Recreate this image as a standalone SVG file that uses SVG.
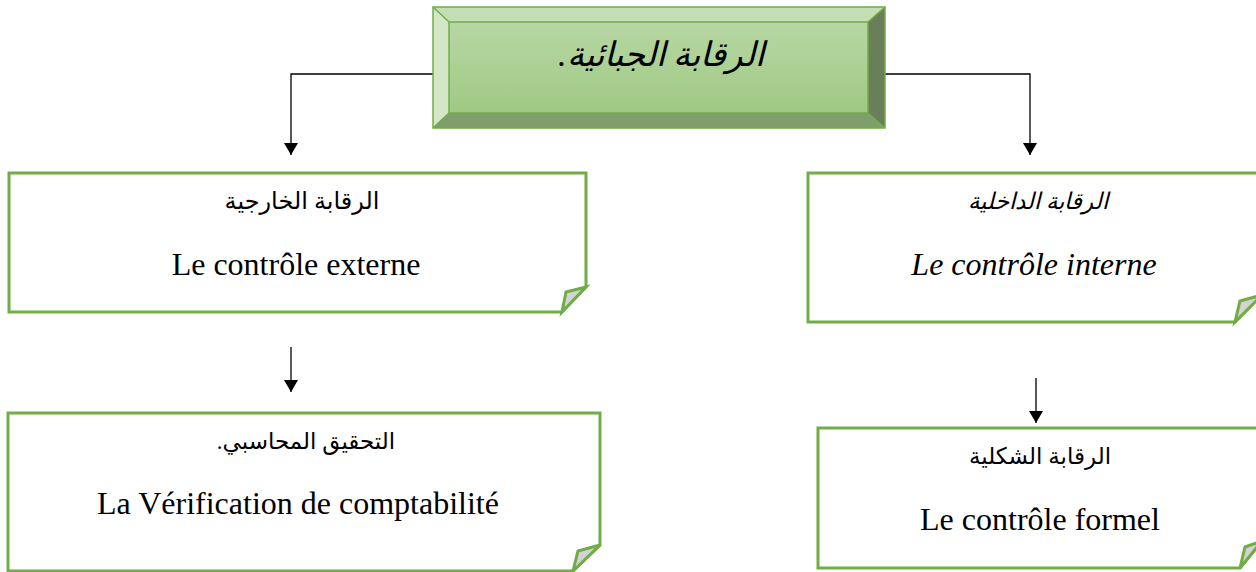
<svg xmlns="http://www.w3.org/2000/svg" width="1256" height="572" viewBox="0 0 1256 572">
  <defs>
    <linearGradient id="faceGrad" x1="0" y1="0" x2="0" y2="1">
      <stop offset="0" stop-color="#b7d7a3"/>
      <stop offset="1" stop-color="#9fc984"/>
    </linearGradient>
    <marker id="arrowHead" viewBox="0 0 12 14" refX="12" refY="7" markerWidth="12" markerHeight="14" markerUnits="userSpaceOnUse" orient="auto">
      <path d="M0,0 L12,7 L0,14 Z" fill="#000"/>
    </marker>
  </defs>
  <style>
    .note { fill: #ffffff; stroke: #70ad47; stroke-width: 3; stroke-linejoin: miter; }
    .fold { fill: #d3d3d3; stroke: #70ad47; stroke-width: 3; stroke-linejoin: miter; }
    .link { fill: none; stroke: #000; stroke-width: 1.3; }
    .ar { font-family: "Liberation Serif", "DejaVu Serif", "DejaVu Sans", serif; font-size: 23px; fill: #000; text-anchor: middle; }
    .fr { font-family: "Liberation Serif", "Times New Roman", serif; font-size: 32px; fill: #000; text-anchor: middle; }
    .it { font-style: italic; }
  </style>

  <rect width="1256" height="572" fill="#ffffff"/>

  <!-- connectors -->
  <g id="connectors">
    <path class="link" d="M433,74 H291 V155" marker-end="url(#arrowHead)"/>
    <path class="link" d="M885,74 H1030 V155" marker-end="url(#arrowHead)"/>
    <path class="link" d="M291,347 V392" marker-end="url(#arrowHead)"/>
    <path class="link" d="M1036,378 V423" marker-end="url(#arrowHead)"/>
  </g>

  <!-- bevelled title block -->
  <g id="title">
    <rect x="449" y="22" width="419" height="91" fill="url(#faceGrad)"/>
    <polygon points="433,7 885,7 868,22 449,22" fill="#c5dfb4"/>
    <polygon points="433,7 449,22 449,113 433,128" fill="#d3e6c6"/>
    <polygon points="885,7 885,128 868,113 868,22" fill="#687f59"/>
    <polygon points="433,128 449,113 868,113 885,128" fill="#7f9e6c"/>
    <g fill="none" stroke="#70ad47" stroke-width="1.5">
      <rect x="433" y="7" width="452" height="121"/>
      <rect x="449" y="22" width="419" height="91"/>
      <path d="M433,7 L449,22 M885,7 L868,22 M433,128 L449,113 M885,128 L868,113"/>
    </g>
    <text x="661" y="66" direction="rtl" font-family="Liberation Serif, DejaVu Sans, serif" font-style="italic" font-size="34" text-anchor="middle" fill="#000">الرقابة الجبائية.</text>
  </g>

  <!-- external control -->
  <g id="external">
    <path class="note" d="M9,173 H586 V287 L562,312 H9 Z"/>
    <polygon class="fold" points="586,287 566,292 562,312"/>
    <text class="ar" x="302" y="209" style="font-size:24px">الرقابة الخارجية</text>
    <text class="fr" x="296" y="275">Le contrôle externe</text>
  </g>

  <!-- internal control -->
  <g id="internal">
    <path class="note" d="M808,173 H1262 V295 L1235,322 H808 Z"/>
    <polygon class="fold" points="1262,295 1240,301 1235,322"/>
    <text class="ar it" x="1038" y="209">الرقابة الداخلية</text>
    <text class="fr it" x="1034" y="275">Le contrôle interne</text>
  </g>

  <!-- accounting verification -->
  <g id="verification">
    <path class="note" d="M8,413 H600 V545 L573,571 H8 Z"/>
    <polygon class="fold" points="600,545 578,551 573,571"/>
    <text class="ar" x="306" y="449" direction="rtl">التحقيق المحاسبي.</text>
    <text class="fr" x="298" y="514">La Vérification de comptabilité</text>
  </g>

  <!-- formal control -->
  <g id="formal">
    <path class="note" d="M818,428 H1262 V541 L1240,568 H818 Z"/>
    <polygon class="fold" points="1262,541 1245,547 1240,568"/>
    <text class="ar" x="1040" y="464">الرقابة الشكلية</text>
    <text class="fr" x="1040" y="530">Le contrôle formel</text>
  </g>
</svg>
